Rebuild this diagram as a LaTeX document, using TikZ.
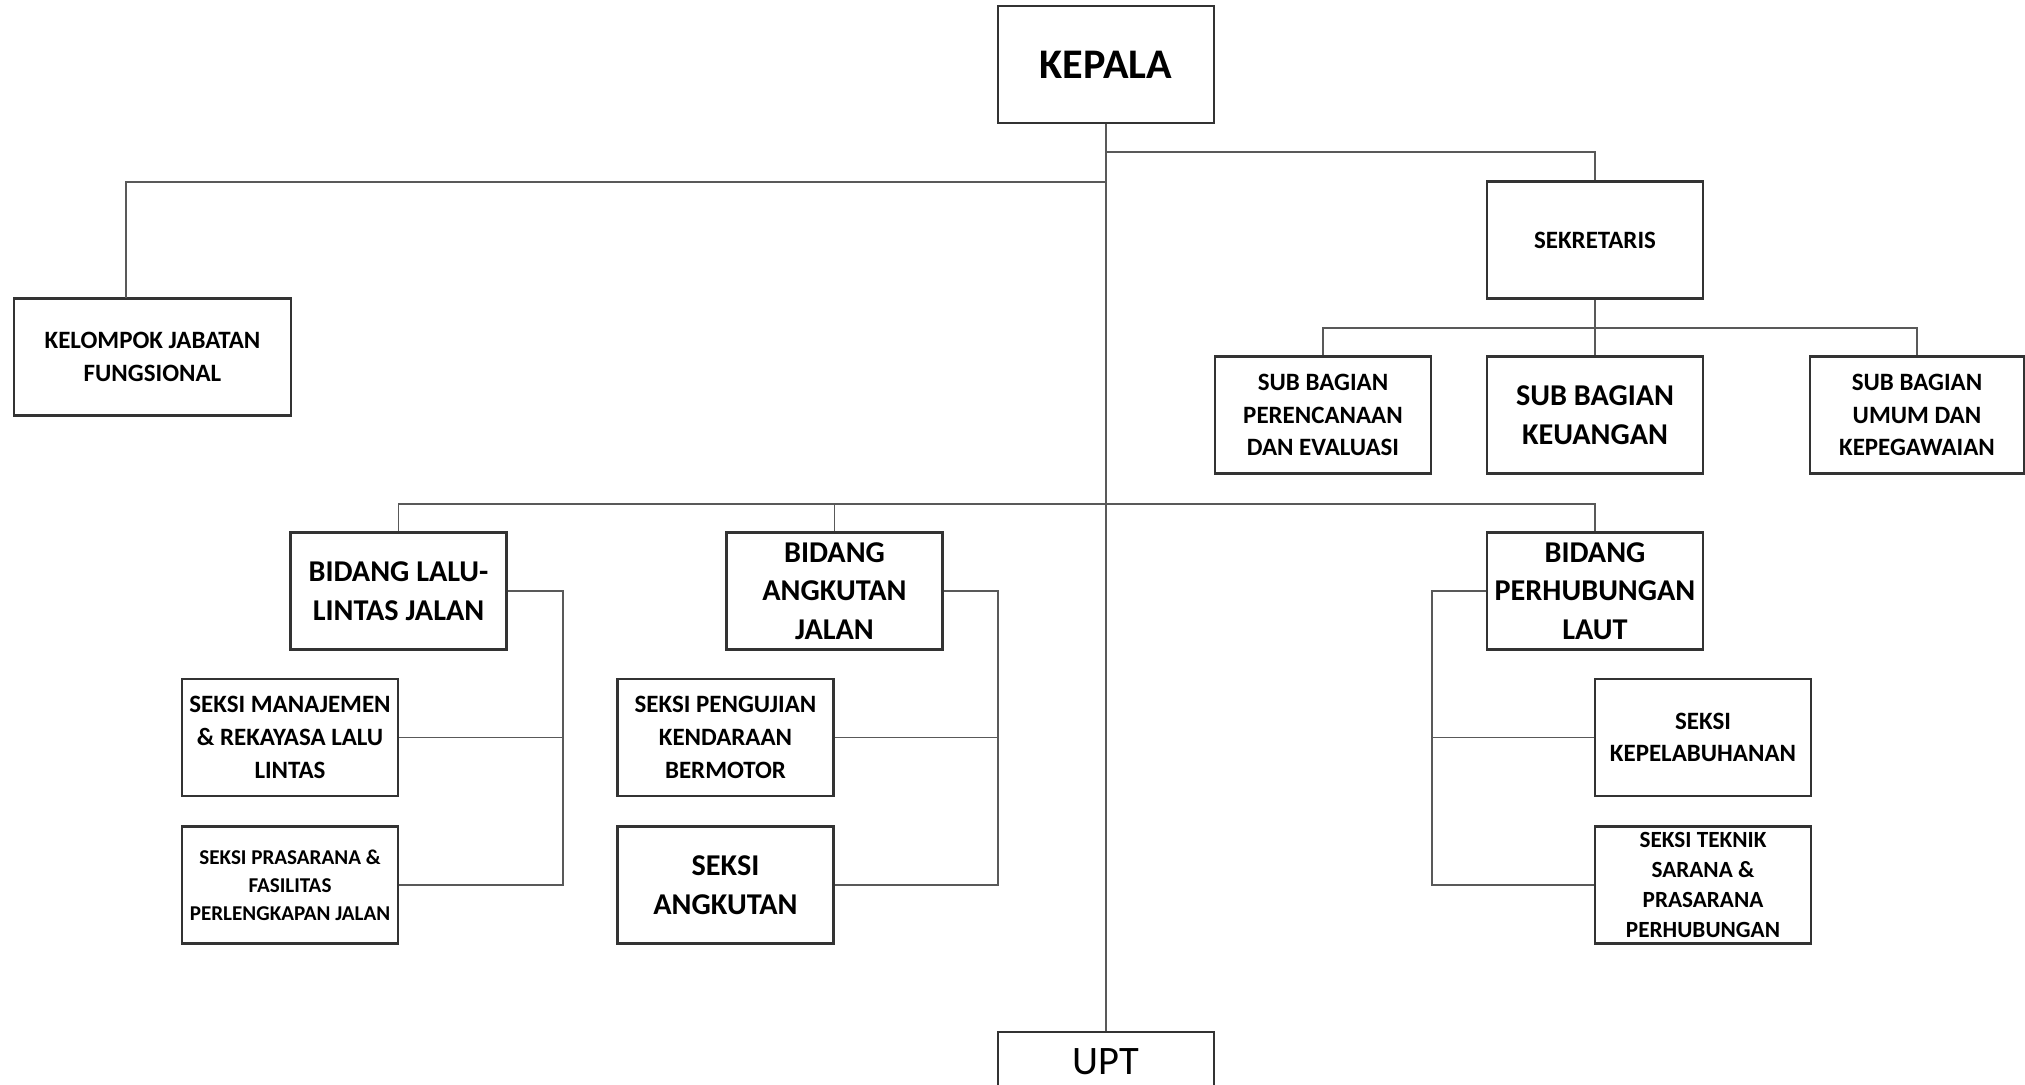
\documentclass[tikz,border=0pt]{standalone}
\usepackage{fontspec}
\setmainfont{Carlito}
\tikzset{
  box/.style={draw=black!80, line width=0.6pt, fill=white, minimum width=2.16cm,
    minimum height=1.17cm, align=center, inner sep=1pt},
  big/.style={font=\bfseries\fontsize{12}{14}\selectfont},
  mid/.style={font=\bfseries\fontsize{8.6}{11}\selectfont},
  small/.style={font=\bfseries\fontsize{7.1}{9.3}\selectfont},
  tiny/.style={font=\bfseries\fontsize{6}{8}\selectfont},
  conn/.style={draw=black!65, line width=0.4pt},
}
\begin{document}
\begin{tikzpicture}
  \useasboundingbox (0,0) rectangle (20.25,-10.84);
  %% top
  \node[box, big] (kepala) at (11.06,-0.645) {KEPALA};
  \node[box, small, minimum width=2.77cm] (kjf) at (1.525,-3.57) {KELOMPOK JABATAN\\FUNGSIONAL};
  \node[box, small] (sekr) at (15.95,-2.40) {SEKRETARIS};
  \node[box, font=\fontsize{11.5}{14}\selectfont, minimum height=0.6cm, anchor=north] (upt) at (11.06,-10.31) {UPT};
  %% sub bagian
  \node[box, small] (subren) at (13.23,-4.15) {SUB BAGIAN\\PERENCANAAN\\DAN EVALUASI};
  \node[box, mid] (subkeu) at (15.95,-4.15) {SUB BAGIAN\\KEUANGAN};
  \node[box, small, minimum width=2.14cm] (subumum) at (19.17,-4.15) {SUB BAGIAN\\UMUM DAN\\KEPEGAWAIAN};
  %% bidang
  \node[box, mid] (bidllj) at (3.985,-5.91) {BIDANG LALU-\\LINTAS JALAN};
  \node[box, mid] (bidaj) at (8.345,-5.91) {BIDANG\\ANGKUTAN\\JALAN};
  \node[box, mid] (bidpl) at (15.95,-5.91) {BIDANG\\PERHUBUNGAN\\LAUT};
  %% seksi
  \node[box, small] (smrl) at (2.90,-7.375) {SEKSI MANAJEMEN\\\& REKAYASA LALU\\LINTAS};
  \node[box, tiny] (spfj) at (2.90,-8.85) {SEKSI PRASARANA \&\\FASILITAS\\PERLENGKAPAN JALAN};
  \node[box, small] (spkb) at (7.255,-7.375) {SEKSI PENGUJIAN\\KENDARAAN\\BERMOTOR};
  \node[box, mid] (sang) at (7.255,-8.85) {SEKSI\\ANGKUTAN};
  \node[box, small] (skep) at (17.03,-7.375) {SEKSI\\KEPELABUHANAN};
  \node[box, font=\bfseries\fontsize{6.6}{8.5}\selectfont] (stek) at (17.03,-8.85) {SEKSI TEKNIK\\SARANA \&\\PRASARANA\\PERHUBUNGAN};
  %% bends of the lines
  \coordinate (kjftop) at (1.26,-2.98);
  \coordinate (sbus) at (15.95,-3.28);
  \coordinate (bbus) at (11.07,-5.04);
  \coordinate (lljx) at (5.63,-5.91);
  \coordinate (ajx) at (9.98,-5.91);
  \coordinate (plx) at (14.32,-5.91);
  %% lines
  \draw[conn] (kepala.south) -- (upt.north);
  \draw[conn] (kepala.south |- 0,-1.52) -| (sekr.north);
  \draw[conn] (kepala.south |- 0,-1.82) -| (kjftop);
  \draw[conn] (sekr.south) -- (subkeu.north);
  \draw[conn] (subren.north) |- (sbus) -| (subumum.north);
  \draw[conn] (bidllj.north) |- (bbus) -| (bidpl.north);
  \draw[conn] (bidaj.north) -- (bidaj.north |- bbus);
  %% left bracket
  \draw[conn] (bidllj.east) -- (lljx) |- (spfj.east);
  \draw[conn] (smrl.east) -- (smrl.east -| lljx);
  %% middle bracket
  \draw[conn] (bidaj.east) -- (ajx) |- (sang.east);
  \draw[conn] (spkb.east) -- (spkb.east -| ajx);
  %% right bracket
  \draw[conn] (bidpl.west) -- (plx) |- (stek.west);
  \draw[conn] (skep.west) -- (skep.west -| plx);
\end{tikzpicture}
\end{document}
